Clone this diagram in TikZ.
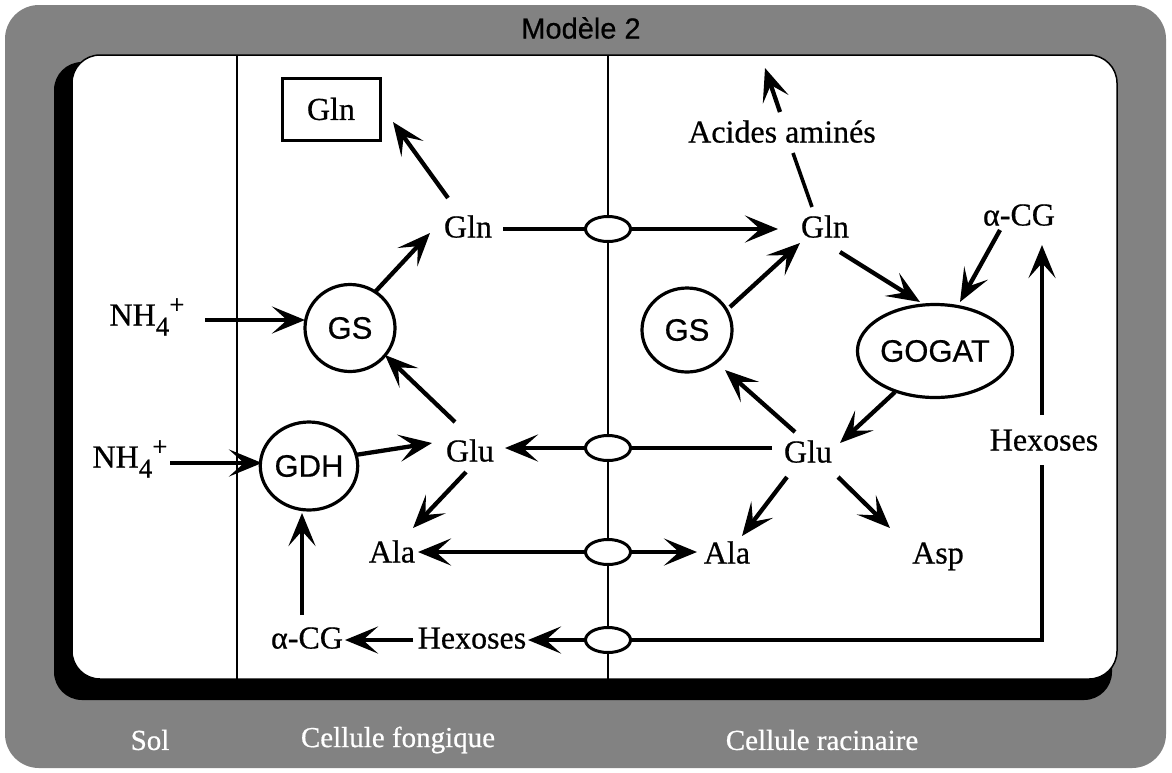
\documentclass[tikz,border=0pt]{standalone}
\usepackage{fontspec}
\setmainfont{Liberation Serif}
\newfontface\srf{Liberation Serif}[FakeBold=0.6]
\newfontface\hv{Liberation Sans}[FakeBold=0.6]
\usetikzlibrary{arrows.meta,shapes.geometric}
\definecolor{framegray}{HTML}{828282}
\begin{document}
\begin{tikzpicture}[x=1pt,y=-1pt,
  lbl/.style={font=\srf\fontsize{32}{34}\selectfont, inner sep=1pt, text height=21pt, text depth=0pt},
  enz/.style={draw, ellipse, line width=3.2pt, font=\hv\fontsize{31}{32}\selectfont, inner sep=0pt},
  pore/.style={draw, ellipse, fill=white, line width=3pt, minimum width=45pt, minimum height=25pt, inner sep=0pt},
  arr/.style={line width=4.3pt, -{Stealth[length=33pt,width=27pt,inset=15pt]}},
  conn/.style={line width=3.6pt},
  mem/.style={line width=2.6pt},
  zone/.style={font=\srf\fontsize{29}{30}\selectfont, text=white},
]
\useasboundingbox (0,0) rectangle (1172,772);
\fill[white] (0,0) rectangle (1172,772);
% frame
\fill[framegray, rounded corners=34pt] (5,5) rectangle (1166,768);
\fill[black, rounded corners=28pt] (54,62) rectangle (1112,700);
\filldraw[fill=white, draw=black, line width=1.5pt, rounded corners=28pt] (72,55) rectangle (1117,679);
\node[font=\hv\fontsize{29}{30}\selectfont, text=black] (title) at (581,28) {Modèle 2};
\node[zone] (sol) at (150,740) {Sol};
\node[zone] (cf) at (398,740) {Cellule fongique};
\node[zone] (cr) at (822,740) {Cellule racinaire};
% membranes
\draw[mem] (237,55) -- (237,679);
\draw[mem] (608,55) -- (608,679);
\coordinate (p1) at (608,229);
\coordinate (p2) at (608,448);
\coordinate (p3) at (608,552);
\coordinate (p4) at (608,640);
\coordinate (aaUp) at (765,68);
\coordinate (hexUp) at (1042,245);
% nodes
\node[draw, line width=3pt, minimum width=98pt, minimum height=62pt, inner sep=0pt, font=\srf\fontsize{32}{34}\selectfont] (glnbox) at (331,109) {Gln};
\node[lbl] (glnL) at (468,227) {Gln};
\node[lbl] (glnR) at (825,227) {Gln};
\node[lbl] (aa) at (782,132) {Acides aminés};
\node[lbl] (acgR) at (1019,215) {α-CG};
\node[lbl] (gluR) at (808,452) {Glu};
\node[lbl] (gluL) at (470,451) {Glu};
\node[lbl] (alaL) at (392,552) {Ala};
\node[lbl] (alaR) at (727,553) {Ala};
\node[lbl] (asp) at (938,553) {Asp};
\node[lbl] (hexL) at (472,638) {Hexoses};
\node[lbl] (acgL) at (307,638) {α-CG};
\node[lbl] (hexR) at (1044,440) {Hexoses};
\node[lbl] (nh1) at (147,315) {NH\raisebox{-10pt}{\fontsize{27}{27}\selectfont 4}\raisebox{12pt}{\fontsize{27}{27}\selectfont +}};
\node[lbl] (nh2) at (130,457) {NH\raisebox{-10pt}{\fontsize{27}{27}\selectfont 4}\raisebox{12pt}{\fontsize{27}{27}\selectfont +}};
\node[enz, minimum width=90pt, minimum height=87pt] (gsL) at (350,328) {GS};
\node[enz, minimum width=92pt, minimum height=88pt] (gdh) at (309,466) {GDH};
\node[enz, minimum width=90pt, minimum height=84pt] (gsR) at (687,330) {GS};
\node[enz, minimum width=145pt, minimum height=93pt] (gogat) at (935,351) {GOGAT};
% connectors
\draw[arr] ([shift={(58,5)}]nh1.center) -- ([shift={(-45,-8)}]gsL.center);
\draw[arr] ([shift={(40,6)}]nh2.center) -- ([shift={(-47,-3)}]gdh.center);
\draw[arr] ([shift={(46,-11)}]gdh.center) -- ([shift={(-38,-8)}]gluL.center);
\draw[arr] ([shift={(-15,-29)}]gluL.center) -- ([shift={(35,27)}]gsL.center);
\draw[arr] ([shift={(25,-36)}]gsL.center) -- ([shift={(-38,6)}]glnL.center);
\draw[arr] ([shift={(-20,-29)}]glnL.center) -- ([shift={(62,13)}]glnbox.center);
\draw[arr] ([shift={(35,2)}]glnL.center) -- ([shift={(-47,2)}]glnR.center);
\draw[conn] ([shift={(-13,-20)}]glnR.center) -- ([shift={(11,21)}]aa.center);
\draw[arr] ([shift={(-2,-20)}]aa.center) -- (aaUp);
\draw[arr] ([shift={(15,25)}]glnR.center) -- ([shift={(-15,-49)}]gogat.center);
\draw[arr] ([shift={(-19,15)}]acgR.center) -- ([shift={(25,-49)}]gogat.center);
\draw[arr] ([shift={(43,-23)}]gsR.center) -- ([shift={(-25,16)}]glnR.center);
\draw[arr] ([shift={(-40,41)}]gogat.center) -- ([shift={(32,-9)}]gluR.center);
\draw[arr] ([shift={(-13,-20)}]gluR.center) -- ([shift={(38,40)}]gsR.center);
\draw[conn] ([shift={(-36,-4)}]gluR.center) -- (p2);
\draw[arr] (p2) -- ([shift={(35,-3)}]gluL.center);
\draw[arr] ([shift={(-21,25)}]gluR.center) -- ([shift={(15,-17)}]alaR.center);
\draw[arr] ([shift={(30,25)}]gluR.center) -- ([shift={(-48,-25)}]asp.center);
\draw[arr] ([shift={(-4,21)}]gluL.center) -- ([shift={(21,-24)}]alaL.center);
\draw[arr, {Stealth[length=33pt,width=27pt,inset=15pt]}-{Stealth[length=33pt,width=27pt,inset=15pt]}] ([shift={(26,0)}]alaL.center) -- ([shift={(-30,-1)}]alaR.center);
\draw[conn] ([shift={(-2,25)}]hexR.center) -- ([shift={(-2,200)}]hexR.center) -- (p4);
\draw[arr] (p4) -- ([shift={(56,2)}]hexL.center);
\draw[arr] ([shift={(-2,-25)}]hexR.center) -- (hexUp);
\draw[arr] ([shift={(-59,2)}]hexL.center) -- ([shift={(38,2)}]acgL.center);
\draw[arr] ([shift={(-5,-23)}]acgL.center) -- ([shift={(-7,47)}]gdh.center);
% pores
\node[pore] (o1) at (p1) {};
\node[pore] (o2) at (p2) {};
\node[pore] (o3) at (p3) {};
\node[pore] (o4) at (p4) {};
\end{tikzpicture}
\end{document}
